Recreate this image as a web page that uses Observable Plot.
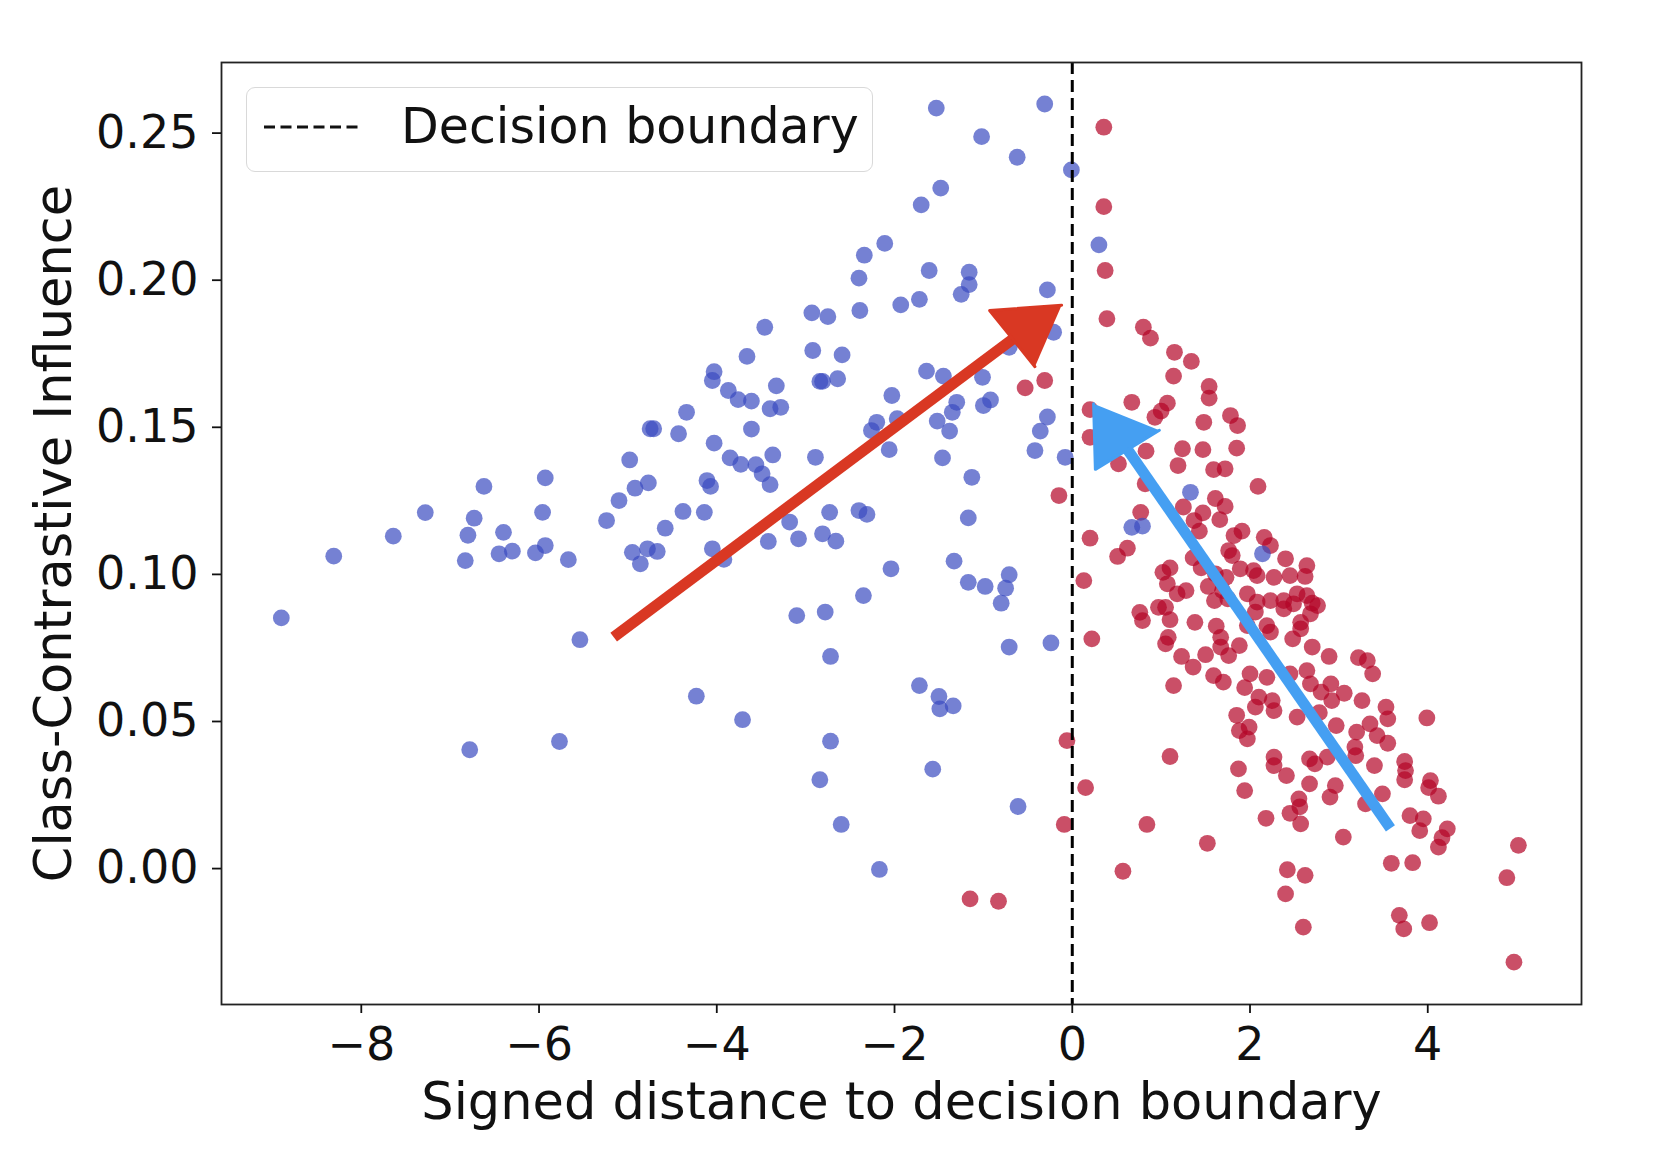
<!DOCTYPE html>
<html>
<head>
<meta charset="utf-8">
<script src="https://cdn.jsdelivr.net/npm/d3@7"></script>
<script src="https://cdn.jsdelivr.net/npm/@observablehq/plot@0.6"></script>
<style>
  body { margin: 0; background: #fff; }
  #fig { position: relative; width: 1664px; height: 1172px; font-family: "DejaVu Sans", sans-serif; }
  .legend {
    position: absolute; left: 246px; top: 87px; width: 627px; height: 85px;
    box-sizing: border-box; border: 1.5px solid #d9d9d9; border-radius: 9px;
    background: rgba(255,255,255,0.85);
  }
  .legend svg { position: absolute; left: 16px; top: 36px; }
  .legend span {
    position: absolute; left: 154px; top: 8px; font-size: 49px; line-height: 62px; color: #111;
    white-space: nowrap;
  }
</style>
</head>
<body>
<div id="fig"></div>
<script>
// Class 0 samples: [signed distance, class-contrastive influence]
const bluePoints = [
  [-8.90,0.0852],[-8.31,0.1062],[-7.64,0.1130],[-7.28,0.1210],[-6.62,0.1299],[-6.73,0.1191],[-6.80,0.1133],
  [-6.83,0.1047],[-6.40,0.1143],[-6.45,0.1070],[-6.30,0.1079],[-5.93,0.1328],[-5.96,0.1211],[-5.93,0.1098],
  [-6.04,0.1073],[-5.67,0.1050],[-5.54,0.0778],[-6.78,0.0404],[-5.77,0.0432],[-5.24,0.1183],[-5.10,0.1251],
  [-4.98,0.1389],[-4.92,0.1293],[-4.77,0.1311],[-4.71,0.1495],[-4.75,0.1495],[-4.43,0.1478],[-4.34,0.1551],
  [-4.58,0.1157],[-4.38,0.1214],[-4.95,0.1075],[-4.78,0.1087],[-4.67,0.1078],[-4.86,0.1036],[-4.23,0.0586],
  [-1.53,0.2585],[-0.31,0.2599],[-1.02,0.2488],[-0.62,0.2418],[-0.01,0.2375],[-1.48,0.2313],[-1.70,0.2256],
  [-2.11,0.2125],[-2.34,0.2085],[-2.40,0.2007],[-1.61,0.2033],[-1.16,0.2027],[-1.16,0.1985],[-1.25,0.1952],
  [-1.72,0.1935],[-1.93,0.1916],[-2.39,0.1897],[-0.28,0.1967],[-2.93,0.1889],[-2.75,0.1876],[-3.46,0.1840],
  [-3.66,0.1741],[-2.92,0.1761],[-2.59,0.1746],[-4.03,0.1689],[-4.05,0.1659],[-3.87,0.1625],[-3.76,0.1594],
  [-3.61,0.1589],[-3.33,0.1641],[-3.40,0.1563],[-3.28,0.1568],[-2.81,0.1656],[-2.84,0.1656],[-2.64,0.1665],
  [-3.61,0.1494],[-4.03,0.1446],[-3.85,0.1396],[-3.73,0.1374],[-3.56,0.1373],[-3.49,0.1342],[-3.37,0.1406],
  [-3.40,0.1305],[-4.11,0.1319],[-4.07,0.1299],[-2.89,0.1398],[-2.06,0.1424],[-2.03,0.1608],[-2.20,0.1517],
  [-2.26,0.1489],[-1.97,0.1529],[-1.64,0.1691],[-1.45,0.1674],[-1.30,0.1585],[-1.35,0.1551],[-1.52,0.1521],
  [-1.38,0.1487],[-1.46,0.1396],[-1.13,0.1330],[-1.01,0.1670],[-1.00,0.1574],[-0.92,0.1593],[-0.71,0.1772],
  [-0.21,0.1823],[-0.45,0.1863],[-0.28,0.1535],[-0.36,0.1487],[-0.42,0.1421],[-0.08,0.1398],
  [-4.14,0.1211],[-2.73,0.1211],[-2.40,0.1217],[-2.31,0.1204],[-3.18,0.1178],[-4.05,0.1087],[-3.92,0.1051],
  [-3.42,0.1112],[-3.08,0.1121],[-2.81,0.1138],[-2.66,0.1113],[-1.17,0.1192],[-1.33,0.1045],[-2.04,0.1019],
  [-2.35,0.0928],[-1.17,0.0973],[-0.98,0.0959],[-0.71,0.0999],[-0.75,0.0953],[-0.80,0.0902],[-3.10,0.0860],
  [-2.78,0.0872],[-2.72,0.0721],[-0.71,0.0753],[-0.24,0.0767],[-3.71,0.0506],[-2.72,0.0433],[-2.84,0.0302],
  [-2.60,0.0150],[-2.17,-0.0003],[-1.72,0.0622],[-1.50,0.0585],[-1.34,0.0553],[-1.49,0.0543],[-1.57,0.0338],
  [-0.61,0.0211],
  [0.30,0.2120],[0.67,0.1160],[0.79,0.1164],[1.33,0.1279],[2.14,0.1070]
];

// Class 1 samples: [signed distance, class-contrastive influence]
const redPoints = [
  [-0.53,0.1634],[-0.31,0.1659],[-0.15,0.1268],[-1.15,-0.0103],[-0.83,-0.0111],[-0.06,0.0435],[-0.09,0.0150],
  [0.355,0.2520],[0.355,0.2250],[0.37,0.2033],[0.39,0.1869],[0.80,0.1840],[0.88,0.1803],[1.15,0.1755],
  [1.34,0.1724],[1.14,0.1674],[1.54,0.1639],[1.54,0.1599],[1.07,0.1582],[1.00,0.1555],[0.93,0.1534],
  [0.67,0.1585],[0.20,0.1560],[1.78,0.1540],[1.86,0.1506],[1.48,0.1517],[1.85,0.1429],[1.47,0.1424],
  [1.24,0.1427],[1.19,0.1370],[0.83,0.1419],[0.52,0.1376],[0.20,0.1466],[1.59,0.1356],[1.72,0.1359],
  [2.09,0.1299],[0.82,0.1308],[1.61,0.1258],
  [0.77,0.1211],[0.20,0.1123],[0.62,0.1089],[0.51,0.1061],[0.13,0.0979],[0.22,0.0781],[1.10,0.0381],[0.15,0.0275],
  [1.72,0.1231],[1.66,0.1186],[1.25,0.1229],[1.47,0.1209],[1.37,0.1183],[1.43,0.1147],[1.36,0.1056],
  [1.45,0.1022],[1.10,0.1022],[1.02,0.1007],[1.07,0.0968],[1.18,0.0934],[1.28,0.0945],[0.76,0.0871],
  [0.79,0.0843],[0.97,0.0888],[1.05,0.0888],[1.10,0.0846],[1.38,0.0837],[1.08,0.0786],[1.05,0.0764],
  [1.23,0.0721],[1.36,0.0685],[1.50,0.0727],[1.62,0.0824],[1.67,0.0786],[1.67,0.0753],[1.76,0.0724],
  [1.59,0.0656],[1.70,0.0634],[1.88,0.0758],[1.94,0.0615],[2.00,0.0662],[1.85,0.0521],[1.88,0.0469],
  [1.99,0.0481],[1.97,0.0441],[1.87,0.0339],[1.94,0.0265],[2.10,0.0583],[2.06,0.0549],[2.25,0.0571],
  [2.27,0.0537],[2.19,0.0650],[2.23,0.0804],[2.19,0.0826],[2.27,0.0379],[2.27,0.0350],[2.41,0.0316],
  [2.55,0.0237],[2.67,0.0373],[2.67,0.0288],[2.53,0.0515],
  [1.97,0.0934],[2.08,0.0906],[2.23,0.0911],[2.38,0.0911],[2.49,0.0900],[2.64,0.0928],[2.68,0.0866],
  [2.57,0.0815],[2.48,0.0781],[2.70,0.0753],[2.64,0.0673],[2.68,0.0628],[2.45,0.0662],[2.40,0.1053],
  [2.16,0.1126],[2.23,0.1098],[1.82,0.1132],[1.91,0.1147],[1.76,0.1081],[1.80,0.1064],[1.89,0.1019],
  [2.04,0.1013],[2.08,0.0996],[2.27,0.0990],[2.45,0.0996],[2.64,0.1030],[2.62,0.0993],[1.69,0.0945],
  [1.75,0.0917],[1.60,0.0911],[1.53,0.0959],
  [1.73,0.0990],[1.61,0.1002],[2.53,0.0934],[2.70,0.0902],[2.57,0.0837],[2.38,0.0883],[2.06,0.0872],
  [1.97,0.0826],[1.14,0.0622],
  [2.76,0.0894],[2.89,0.0721],[3.22,0.0717],[3.32,0.0707],[3.38,0.0662],[2.91,0.0628],[3.06,0.0596],
  [2.92,0.0571],[3.26,0.0571],[3.53,0.0549],[3.55,0.0509],[3.99,0.0512],[3.35,0.0492],[2.97,0.0486],
  [3.20,0.0464],[3.43,0.0452],[3.55,0.0426],[3.18,0.0413],[3.19,0.0384],[2.87,0.0379],[2.73,0.0356],
  [3.40,0.0350],[3.74,0.0364],[3.75,0.0333],[3.74,0.0302],[4.03,0.0299],[4.01,0.0275],[4.12,0.0246],
  [3.49,0.0254],[2.96,0.0282],[2.90,0.0243],[2.80,0.0600],[2.78,0.0530],
  [3.80,0.0180],[3.95,0.0169],[3.91,0.0129],[4.22,0.0135],[4.16,0.0105],[4.12,0.0073],[3.05,0.0107],
  [3.30,0.0220],[2.57,0.0152],[3.59,0.0018],[3.83,0.0020],[2.62,-0.0023],[4.89,-0.0031],[5.02,0.0079],
  [3.68,-0.0159],[3.73,-0.0205],[4.02,-0.0184],[2.60,-0.0199],[4.97,-0.0318],
  [0.84,0.0150],[1.52,0.0086],[0.57,-0.0009],[2.18,0.0171],[2.56,0.0210],[2.45,0.0188],[2.42,-0.0004],
  [2.40,-0.0086]
];

// Decision boundary position
const boundaryX = [0];

// Annotation arrows: shaft [tail, base of head] and head triangle [tip, corner, corner]
const redArrowShaftX = [-5.16, -0.67];
const redArrowShaftY = [0.0787, 0.1800];
const redArrowHeadX  = [-0.12, -0.93, -0.42];
const redArrowHeadY  = [0.1915, 0.1897, 0.1706];
const blueArrowShaftX = [3.58, 0.62];
const blueArrowShaftY = [0.0137, 0.1425];
const blueArrowHeadX  = [0.24, 0.26, 0.98];
const blueArrowHeadY  = [0.1580, 0.1357, 0.1490];

// Axis ticks and labels
const xTicks = [-8, -6, -4, -2, 0, 2, 4];
const yTicks = [0, 0.05, 0.10, 0.15, 0.20, 0.25];
const xLabel = "Signed distance to decision boundary";
const yLabel = "Class-Contrastive Influence";
const legendLabel = "Decision boundary";

const BLUE = "#3b4cc0";
const RED = "#b40426";
const ARROW_RED = "#d93823";
const ARROW_BLUE = "#459ff2";
const TICK_FONT = 46;
const LABEL_FONT = 51;

const chart = Plot.plot({
  width: 1664,
  height: 1172,
  marginLeft: 221,
  marginRight: 83,
  marginTop: 62,
  marginBottom: 168,
  style: { fontFamily: "DejaVu Sans, sans-serif", background: "white", color: "#111" },
  x: { domain: [-9.573, 5.730] },
  y: { domain: [-0.0462, 0.2740] },
  marks: [
    Plot.dot(redPoints, { x: d => d[0], y: d => d[1], r: 8.4, fill: RED, fillOpacity: 0.7, stroke: "none" }),
    Plot.dot(bluePoints, { x: d => d[0], y: d => d[1], r: 8.4, fill: BLUE, fillOpacity: 0.7, stroke: "none" }),
    Plot.ruleX(boundaryX, { stroke: "black", strokeWidth: 3, strokeDasharray: "12,6" }),
    Plot.frame({ stroke: "#222", strokeWidth: 1.8 }),
    Plot.axisX({ ticks: xTicks, tickFormat: d3.format("d"), tickSize: 9, tickPadding: 14,
                 fontSize: TICK_FONT, strokeWidth: 1.8, label: null }),
    Plot.axisY({ ticks: yTicks, tickFormat: d3.format(".2f"), tickSize: 9, tickPadding: 14,
                 fontSize: TICK_FONT, strokeWidth: 1.8, label: null }),
    Plot.text([xLabel], { frameAnchor: "bottom", dy: 98, fontSize: LABEL_FONT, lineAnchor: "middle",
                          textAnchor: "middle", fill: "#111" }),
    Plot.text([yLabel], { frameAnchor: "left", dx: -167, rotate: -90, fontSize: LABEL_FONT,
                          lineAnchor: "middle", textAnchor: "middle", fill: "#111" }),
    // annotation arrows
    Plot.line(redArrowShaftX, { x: redArrowShaftX, y: redArrowShaftY, stroke: ARROW_RED, strokeWidth: 11,
                                strokeLinecap: "butt" }),
    Plot.line(redArrowHeadX, { x: redArrowHeadX, y: redArrowHeadY, fill: ARROW_RED, stroke: ARROW_RED,
                               strokeWidth: 3, strokeLinejoin: "round" }),
    Plot.line(blueArrowShaftX, { x: blueArrowShaftX, y: blueArrowShaftY, stroke: ARROW_BLUE, strokeWidth: 11,
                                 strokeLinecap: "butt" }),
    Plot.line(blueArrowHeadX, { x: blueArrowHeadX, y: blueArrowHeadY, fill: ARROW_BLUE, stroke: ARROW_BLUE,
                                strokeWidth: 3, strokeLinejoin: "round" })
  ]
});

const fig = document.getElementById("fig");
fig.appendChild(chart);

// legend box
const legend = document.createElement("div");
legend.className = "legend";
legend.innerHTML =
  '<svg width="100" height="6"><line x1="1" y1="3" x2="99" y2="3" stroke="#111" stroke-width="3" stroke-dasharray="11,5.5"/></svg>' +
  '<span></span>';
legend.querySelector("span").textContent = legendLabel;
fig.appendChild(legend);
</script>
</body>
</html>
